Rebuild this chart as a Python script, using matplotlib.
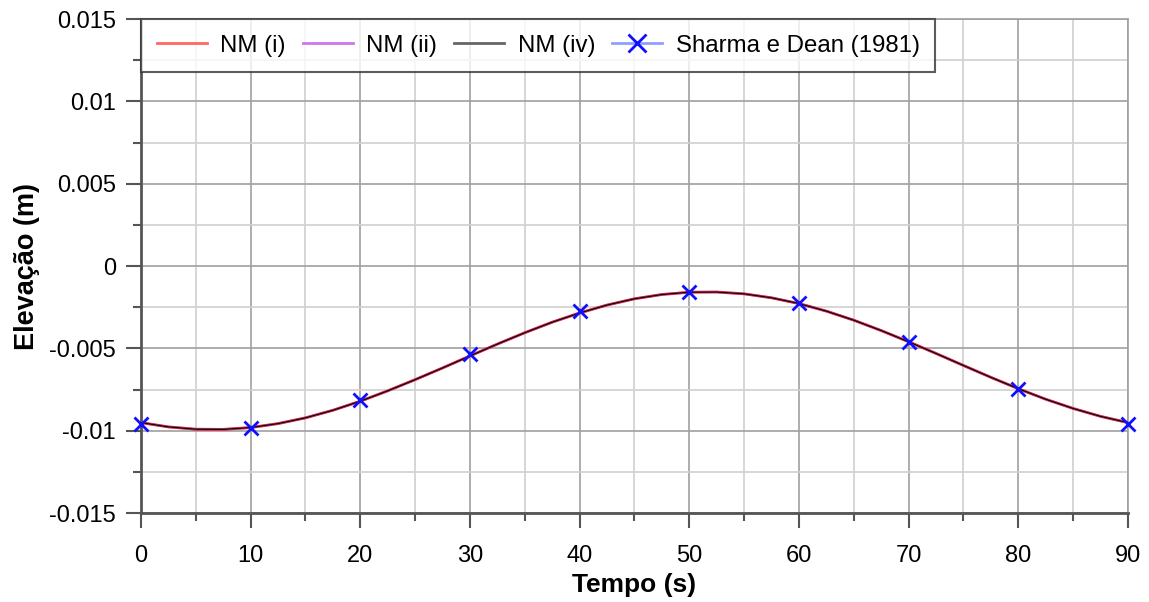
import matplotlib.pyplot as plt
from matplotlib.lines import Line2D
from matplotlib.ticker import MultipleLocator, FuncFormatter

plt.rcParams['font.family'] = ['Liberation Sans', 'DejaVu Sans']

# curve (same for the three numerical models)
tempo = [0, 2.5, 5, 7.5, 10, 12.5, 15, 17.5, 20, 22.5, 25, 27.5, 30, 32.5, 35,
         37.5, 40, 42.5, 45, 47.5, 50, 52.5, 55, 57.5, 60, 62.5, 65, 67.5, 70,
         72.5, 75, 77.5, 80, 82.5, 85, 87.5, 90]
elev_nm = [-0.00951, -0.00977, -0.00991, -0.00992, -0.00981, -0.00957, -0.00922,
           -0.00876, -0.00821, -0.00758, -0.00690, -0.00619, -0.00546, -0.00474,
           -0.00405, -0.00341, -0.00285, -0.00237, -0.00199, -0.00173, -0.00159,
           -0.00158, -0.00169, -0.00193, -0.00228, -0.00274, -0.00329, -0.00392,
           -0.00460, -0.00531, -0.00604, -0.00676, -0.00745, -0.00809, -0.00865,
           -0.00913, -0.00951]

# Sharma e Dean (1981)
tempo_sd = [0, 10, 20, 30, 40, 50, 60, 70, 80, 90]
elev_sd = [-0.0096, -0.00984, -0.00814, -0.00535, -0.00273, -0.00158,
           -0.00225, -0.00462, -0.00747, -0.0096]

fig = plt.figure(figsize=(11.49, 6.02), dpi=100)
ax = fig.add_axes([0.1227, 0.1478, 0.859, 0.8206])

ax.plot(tempo, elev_nm, color='#ff0000', lw=2.0, zorder=3)
ax.plot(tempo, elev_nm, color='#cc66ee', lw=1.2, zorder=3)
ax.plot(tempo, elev_nm, color='#000000', lw=0.9, zorder=4)
ax.plot(tempo_sd, elev_sd, ls='none', marker='x', ms=10, mew=2,
        color='#1010ff', zorder=5, clip_on=False)

ax.set_xlim(0, 90)
ax.set_ylim(-0.015, 0.015)
ax.xaxis.set_major_locator(MultipleLocator(10))
ax.xaxis.set_minor_locator(MultipleLocator(5))
ax.yaxis.set_major_locator(MultipleLocator(0.005))
ax.yaxis.set_minor_locator(MultipleLocator(0.0025))
ax.yaxis.set_major_formatter(FuncFormatter(lambda v, p: ('%g' % round(v, 4)).replace('\u2212', '-')))

ax.grid(which='major', color='#a0a0a0', lw=1.2)
ax.grid(which='minor', color='#d0d0d0', lw=1.2)
ax.set_axisbelow(True)

ax.tick_params(which='major', direction='out', length=11, width=1.5,
               color='#555555', labelsize=17, pad=7)
ax.tick_params(axis='x', which='major', pad=12)
ax.tick_params(which='minor', direction='out', length=6, width=1.5, color='#555555')
for s in ['left', 'bottom']:
    ax.spines[s].set_color('#555555')
    ax.spines[s].set_linewidth(2)
for s in ['top', 'right']:
    ax.spines[s].set_color('#a0a0a0')
    ax.spines[s].set_linewidth(1.2)

ax.set_xlabel('Tempo (s)', fontsize=19, fontweight='bold', labelpad=4)
ax.set_ylabel('Elevação (m)', fontsize=19.5, fontweight='bold', labelpad=7)

handles = [
    Line2D([], [], color='#ff6666', lw=2),
    Line2D([], [], color='#cc77ee', lw=2),
    Line2D([], [], color='#666666', lw=2),
    Line2D([], [], color='#8f9fff', lw=2, marker='x', ms=13, mew=2,
           markeredgecolor='#1010ff'),
]
labels = ['NM (i)', 'NM (ii)', 'NM (iv)', 'Sharma e Dean (1981)']
leg = ax.legend(handles, labels, loc='upper left', ncol=4, fontsize=17.3,
                frameon=True, fancybox=False, borderaxespad=0,
                handlelength=2.1, columnspacing=0.7, handletextpad=0.55,
                borderpad=0.65)
leg.get_frame().set_edgecolor('#333333')
leg.get_frame().set_linewidth(1.5)
leg.set_zorder(10)

fig.savefig('out.png', dpi=100)
